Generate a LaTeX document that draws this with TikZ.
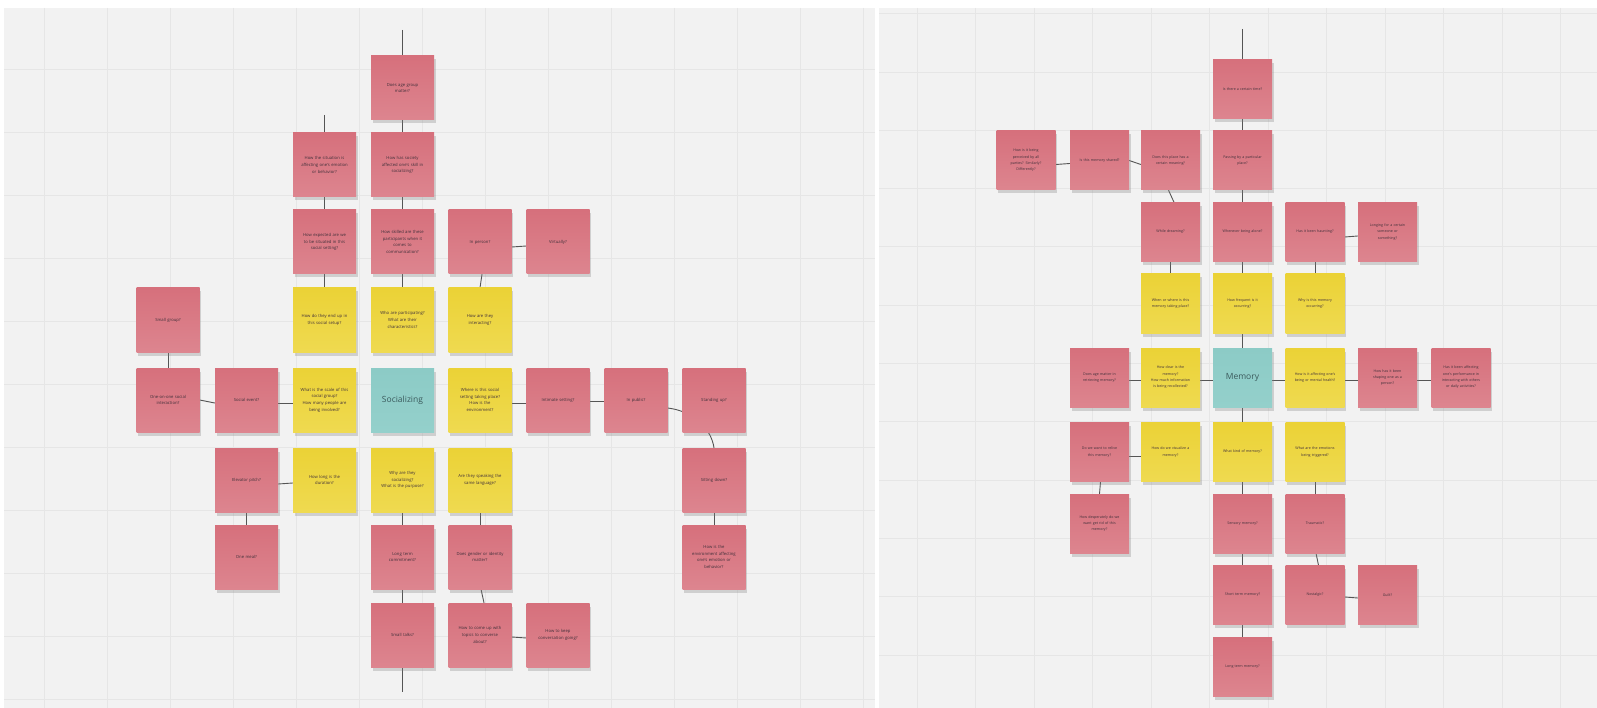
\documentclass[tikz,border=0pt]{standalone}
\usepackage{fontspec}
\newfontfamily\stickyfont{Open Sans}
\usetikzlibrary{shadows,calc}
\pgfdeclarelayer{gridlayer}
\pgfdeclarelayer{linklayer}
\pgfsetlayers{gridlayer,linklayer,main}
\definecolor{pinkT}{HTML}{D6707C}
\definecolor{pinkB}{HTML}{DD858F}
\definecolor{yelT}{HTML}{EBD236}
\definecolor{yelB}{HTML}{EFDA50}
\definecolor{tealT}{HTML}{8CCBC6}
\definecolor{tealB}{HTML}{94D0CB}
\definecolor{boardc}{HTML}{F2F2F2}
\definecolor{gridc}{HTML}{E6E6E6}
\definecolor{linkc}{HTML}{555555}
\definecolor{txtc}{HTML}{40303A}
\definecolor{tealtxt}{HTML}{3A5A5C}
\begin{document}
\begin{tikzpicture}[x=1pt,y=-1pt,
  sticky/.style={rectangle, inner sep=0pt, align=center, text=txtc,
    drop shadow={shadow xshift=1.5pt, shadow yshift=-3.5pt, opacity=0.3}},
  noteL/.style={sticky, minimum width=63pt, minimum height=64pt, text width=61pt,
    font=\stickyfont\fontsize{4.2}{6.7}\selectfont},
  noteR/.style={sticky, minimum width=59pt, minimum height=59pt, text width=56pt,
    font=\stickyfont\fontsize{3.6}{6.3}\selectfont},
  pinkn/.style={top color=pinkT, bottom color=pinkB},
  yeln/.style={top color=yelT, bottom color=yelB},
  tealn/.style={top color=tealT, bottom color=tealB, text=tealtxt,
    font=\stickyfont\fontsize{8.5}{10}\selectfont},
  pL/.style={noteL, pinkn}, yL/.style={noteL, yeln}, tL/.style={noteL, tealn},
  pR/.style={noteR, pinkn}, yR/.style={noteR, yeln}, tR/.style={noteR, tealn},
  link/.style={draw=linkc, line width=0.9pt}
]
\useasboundingbox (0,0) rectangle (1597,708);

% ---------- boards and grid ----------
\begin{pgfonlayer}{gridlayer}
\fill[white] (0,0) rectangle (1597,708);
\fill[boardc] (4,8) rectangle (875,708);
\fill[boardc] (879,8) rectangle (1597,708);
\begin{scope}
\clip (4,8) rectangle (875,708);
\foreach \gx in {0,...,13} \draw[gridc, line width=0.8pt] ({44.7+63*\gx},8) -- ++(0,700);
\foreach \gy in {0,...,11} \draw[gridc, line width=0.8pt] (4,{6+63*\gy}) -- ++(871,0);
\end{scope}
\begin{scope}
\clip (879,8) rectangle (1597,708);
\foreach \gx in {0,...,12} \draw[gridc, line width=0.8pt] ({917+58.5*\gx},8) -- ++(0,700);
\foreach \gy in {0,...,12} \draw[gridc, line width=0.8pt] (879,{13.7+58.3*\gy}) -- ++(718,0);
\end{scope}
\end{pgfonlayer}

% ---------- left board: Socializing ----------
\node[pL] (age)       at (402.5,88)  {Does age group\\matter?};
\node[pL] (situation) at (324.5,165) {How the situation is\\affecting one's emotion\\or behavior?};
\node[pL] (society)   at (402.5,165) {How has society\\affected one's skill in\\socializing?};
\node[pL] (expected)  at (324.5,242) {How expected are we\\to be situated in this\\social setting?};
\node[pL] (skilled)   at (402.5,242) {How skilled are these\\participants when it\\comes to\\communication?};
\node[pL] (inperson)  at (480,242)   {In person?};
\node[pL] (virtually) at (558,242)   {Virtually?};
\node[pL] (smallgrp)  at (168,320)   {Small group?};
\node[yL] (endup)     at (324.5,320) {How do they end up in\\this social setup?};
\node[yL] (who)       at (402.5,320) {Who are participating?\\What are their\\characteristics?};
\node[yL] (interact)  at (480,320)   {How are they\\interacting?};
\node[pL] (oneone)    at (168,400)   {One-on-one social\\interaction?};
\node[pL] (socev)     at (246.5,400) {Social event?};
\node[yL] (scale)     at (324.5,400) {What is the scale of this\\social group?\\How many people are\\being involved?};
\node[tL] (socializing) at (402.5,400) {Socializing};
\node[yL] (where)     at (480,400)   {Where is this social\\setting taking place?\\How is the\\environment?};
\node[pL] (intimate)  at (558,400)   {Intimate setting?};
\node[pL] (public)    at (636,400)   {In public?};
\node[pL] (standing)  at (714,400)   {Standing up?};
\node[pL] (elevator)  at (246.5,480) {Elevator pitch?};
\node[yL] (duration)  at (324.5,480) {How long is the\\duration?};
\node[yL] (why)       at (402.5,480) {Why are they\\socializing?\\What is the purpose?};
\node[yL] (language)  at (480,480)   {Are they speaking the\\same language?};
\node[pL] (sitting)   at (714,480)   {Sitting down?};
\node[pL] (meal)      at (246.5,557) {One meal?};
\node[pL] (longterm)  at (402.5,557) {Long term\\commitment?};
\node[pL] (gender)    at (480,557)   {Does gender or identity\\matter?};
\node[pL] (envaff)    at (714,557)   {How is the\\environment affecting\\one's emotion or\\behavior?};
\node[pL] (smalltalk) at (402.5,635) {Small talks?};
\node[pL] (topics)    at (480,635)   {How to come up with\\topics to converse\\about?};
\node[pL] (keep)      at (558,635)   {How to keep\\conversation going?};
\coordinate (topA) at (402.5,30);
\coordinate (topB) at (324.5,115);
\coordinate (botA) at (402.5,692);

% ---------- right board: Memory ----------
\node[pR] (time)      at (1242.5,89)    {Is there a certain time?};
\node[pR] (perceived) at (1026,160.5)   {How is it being\\perceived by all\\parties? Similarly?\\Differently?};
\node[pR] (shared)    at (1099.5,160.5) {Is this memory shared?};
\node[pR] (place)     at (1170.5,160.5) {Does this place has a\\certain meaning?};
\node[pR] (passing)   at (1242.5,160.5) {Passing by a particular\\place?};
\node[pR] (dream)     at (1170.5,232)   {While dreaming?};
\node[pR] (alone)     at (1242.5,232)   {Whenever being alone?};
\node[pR] (haunt)     at (1315,232)     {Has it been haunting?};
\node[pR] (longing)   at (1387.5,232)   {Longing for a certain\\someone or\\something?};
\node[yR] (whenwhere) at (1170.5,303.5) {When or where is this\\memory taking place?};
\node[yR] (freq)      at (1242.5,303.5) {How frequent is it\\occurring?};
\node[yR] (whyocc)    at (1315,303.5)   {Why is this memory\\occurring?};
\node[pR] (agemem)    at (1099.5,377.5) {Does age matter in\\retrieving memory?};
\node[yR] (clear)     at (1170.5,377.5) {How clear is the\\memory?\\How much information\\is being recollected?};
\node[tR] (memory)    at (1242.5,377.5) {Memory};
\node[yR] (affect)    at (1315,377.5)   {How is it affecting one's\\being or mental health?};
\node[pR] (shaping)   at (1387.5,377.5) {How has it been\\shaping one as a\\person?};
\node[pR] (perf)      at (1461,377.5)   {Has it been affecting\\one's performance in\\interacting with others\\or daily activities?};
\node[pR] (relive)    at (1099.5,452)   {Do we want to relive\\this memory?};
\node[yR] (visualize) at (1170.5,452)   {How do we visualize a\\memory?};
\node[yR] (kind)      at (1242.5,452)   {What kind of memory?};
\node[yR] (emotions)  at (1315,452)     {What are the emotions\\being triggered?};
\node[pR] (desperate) at (1099.5,523.5) {How desperately do we\\want get rid of this\\memory?};
\node[pR] (sensory)   at (1242.5,523.5) {Sensory memory?};
\node[pR] (trauma)    at (1315,523.5)   {Traumatic?};
\node[pR] (shortt)    at (1242.5,595)   {Short term memory?};
\node[pR] (nostalgic) at (1315,595)     {Nostalgic?};
\node[pR] (guilt)     at (1387.5,595)   {Guilt?};
\node[pR] (longt)     at (1242.5,666.5) {Long term memory?};
\coordinate (topR) at (1242.5,29);

% ---------- connectors ----------
\begin{pgfonlayer}{linklayer}
% left
\draw[link] (topA) -- (age.north);
\draw[link] (age) -- (society);
\draw[link] (society) -- (skilled);
\draw[link] (skilled) -- (who);
\draw[link] (topB) -- (situation.north);
\draw[link] (situation) -- (expected);
\draw[link] (expected) -- (endup);
\draw[link] ([yshift=-5pt]inperson.east) -- ([yshift=-4pt]virtually.west);
\draw[link] ([xshift=2pt]inperson.south) -- (interact.north);
\draw[link] (smallgrp) -- (oneone);
\draw[link] (oneone.east) -- ([yshift=-3pt]socev.west);
\draw[link] ([yshift=-3pt]socev.east) -- ([yshift=-3pt]scale.west);
\draw[link] ([yshift=-3pt]where.east) -- ([yshift=-3pt]intimate.west);
\draw[link] ([yshift=-1pt]intimate.east) -- ([yshift=-1pt]public.west);
\draw[link] ([yshift=-8pt]public.east) .. controls ($(public.east)+(25,11)$) and ($(sitting.north)+(-3,-20)$) .. (sitting.north);
\draw[link] (sitting) -- (envaff);
\draw[link] ([yshift=-4pt]elevator.east) -- ([yshift=-3pt]duration.west);
\draw[link] (elevator) -- (meal);
\draw[link] (why) -- (longterm);
\draw[link] (longterm) -- (smalltalk);
\draw[link] (smalltalk.south) -- (botA);
\draw[link] (language) -- (gender);
\draw[link] ([xshift=1pt]gender.south) -- ([xshift=4pt]topics.north);
\draw[link] ([yshift=-2pt]topics.east) -- ([yshift=-3pt]keep.west);
% right
\draw[link] (topR) -- (time.north);
\draw[link] (time) -- (passing);
\draw[link] (passing) -- (alone);
\draw[link] (alone) -- (freq);
\draw[link] ([yshift=-4pt]perceived.east) -- ([yshift=-3pt]shared.west);
\draw[link] (shared.east) -- ([yshift=-4pt]place.west);
\draw[link] ([xshift=-2pt]place.south) -- ([xshift=3.5pt]dream.north);
\draw[link] (dream) -- (whenwhere);
\draw[link] ([yshift=-5pt]haunt.east) -- ([yshift=-4pt]longing.west);
\draw[link] (haunt) -- (whyocc);
\draw[link] (freq) -- (memory);
\draw[link] ([yshift=-3pt]memory.west) -- ([yshift=-3pt]clear.east);
\draw[link] ([yshift=-3pt]clear.west) -- ([yshift=-3pt]agemem.east);
\draw[link] (memory) -- (kind);
\draw[link] (kind) -- (sensory);
\draw[link] (sensory) -- (shortt);
\draw[link] (shortt) -- (longt);
\draw[link] ([yshift=-4pt]visualize.west) -- ([yshift=-4pt]relive.east);
\draw[link] ([xshift=1pt]relive.south) -- (desperate.north);
\draw[link] ([yshift=-3pt]memory.east) -- ([yshift=-3pt]affect.west);
\draw[link] ([yshift=-3pt]affect.east) -- ([yshift=-3pt]shaping.west);
\draw[link] ([yshift=-3pt]shaping.east) -- ([yshift=-3pt]perf.west);
\draw[link] (emotions) -- (trauma);
\draw[link] ([xshift=1pt]trauma.south) -- ([xshift=3.5pt]nostalgic.north);
\draw[link] ([yshift=-2pt]nostalgic.east) -- ([yshift=-3pt]guilt.west);
\end{pgfonlayer}
\end{tikzpicture}
\end{document}
